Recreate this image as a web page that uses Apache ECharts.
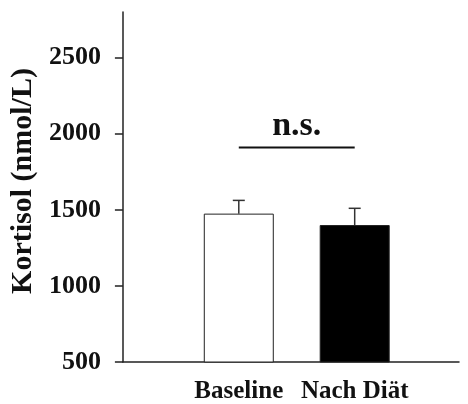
<!DOCTYPE html>
<html>
<head>
<meta charset="utf-8">
<script src="https://cdn.jsdelivr.net/npm/echarts@6/dist/echarts.min.js"></script>
<style>html,body{margin:0;padding:0;background:#fff}#c{width:468px;height:404px}</style>
</head>
<body>
<div id="c"></div>
<script>
const categories = ['Baseline', 'Nach Diät'];
const means = [1475, 1400];
const errors = [87, 110];
const yTicks = [500, 1000, 1500, 2000, 2500];
const sigLabel = 'n.s.';
const sigLevel = 1910;
const yTitle = 'Kortisol (nmol/L)';

const FONT = '"Liberation Serif", "Times New Roman", serif';
const barColors = ['#ffffff', '#000000'];
const xs = categories.map((c, i) => i + 1);

const chart = echarts.init(document.getElementById('c'), null, {renderer: 'canvas'});
chart.setOption({
  animation: false,
  backgroundColor: '#fff',
  grid: {left: 122, right: 9, top: 12, bottom: 42},
  xAxis: {
    type: 'value', min: 0, max: 2.9,
    splitLine: {show: false},
    axisLine: {show: true, lineStyle: {color: '#222', width: 1.5}},
    axisTick: {show: false},
    axisLabel: {
      customValues: xs,
      margin: 17,
      formatter: v => categories[Math.round(v) - 1] || '',
      fontFamily: FONT, fontWeight: 'bold', fontSize: 25, color: '#111'
    }
  },
  yAxis: {
    type: 'value', min: 500, max: 2800, interval: 500,
    splitLine: {show: false},
    axisLine: {show: true, lineStyle: {color: '#222', width: 1.5}},
    axisTick: {show: true, length: 8, customValues: yTicks, lineStyle: {color: '#222', width: 1.5}},
    axisLabel: {customValues: yTicks, margin: 22, formatter: v => String(v), fontFamily: FONT, fontWeight: 'bold', fontSize: 26, color: '#111'},
    name: yTitle, nameLocation: 'middle', nameGap: 72,
    nameTextStyle: {fontFamily: FONT, fontWeight: 'bold', fontSize: 30, color: '#111', padding: [0, 0, 0, 12]}
  },
  series: [
    {
      type: 'bar', barWidth: 70,
      data: means.map((m, i) => ({value: [xs[i], m], itemStyle: {color: barColors[i], borderColor: '#222', borderWidth: 1}})),
      z: 2
    },
    {
      type: 'custom', z: 3,
      data: means.map((m, i) => [xs[i], m, m + errors[i]]),
      renderItem: (params, api) => {
        const p0 = api.coord([api.value(0), api.value(1)]);
        const p1 = api.coord([api.value(0), api.value(2)]);
        const w = 6;
        return {type: 'group', children: [
          {type: 'line', shape: {x1: p0[0], y1: p0[1], x2: p1[0], y2: p1[1]}, style: {stroke: '#333', lineWidth: 1.5}},
          {type: 'line', shape: {x1: p1[0] - w, y1: p1[1], x2: p1[0] + w, y2: p1[1]}, style: {stroke: '#333', lineWidth: 1.5}}
        ]};
      }
    },
    {
      type: 'custom', z: 3,
      data: [[xs[0], xs[1], sigLevel]],
      renderItem: (params, api) => {
        const a = api.coord([api.value(0), api.value(2)]);
        const b = api.coord([api.value(1), api.value(2)]);
        return {type: 'group', children: [
          {type: 'line', shape: {x1: a[0], y1: a[1], x2: b[0], y2: b[1]}, style: {stroke: '#111', lineWidth: 2}},
          {type: 'text', x: (a[0] + b[0]) / 2, y: a[1] - 4, style: {text: sigLabel, fill: '#111', font: 'bold 34px ' + FONT, align: 'center', verticalAlign: 'bottom'}}
        ]};
      }
    }
  ]
});
</script>
</body>
</html>
